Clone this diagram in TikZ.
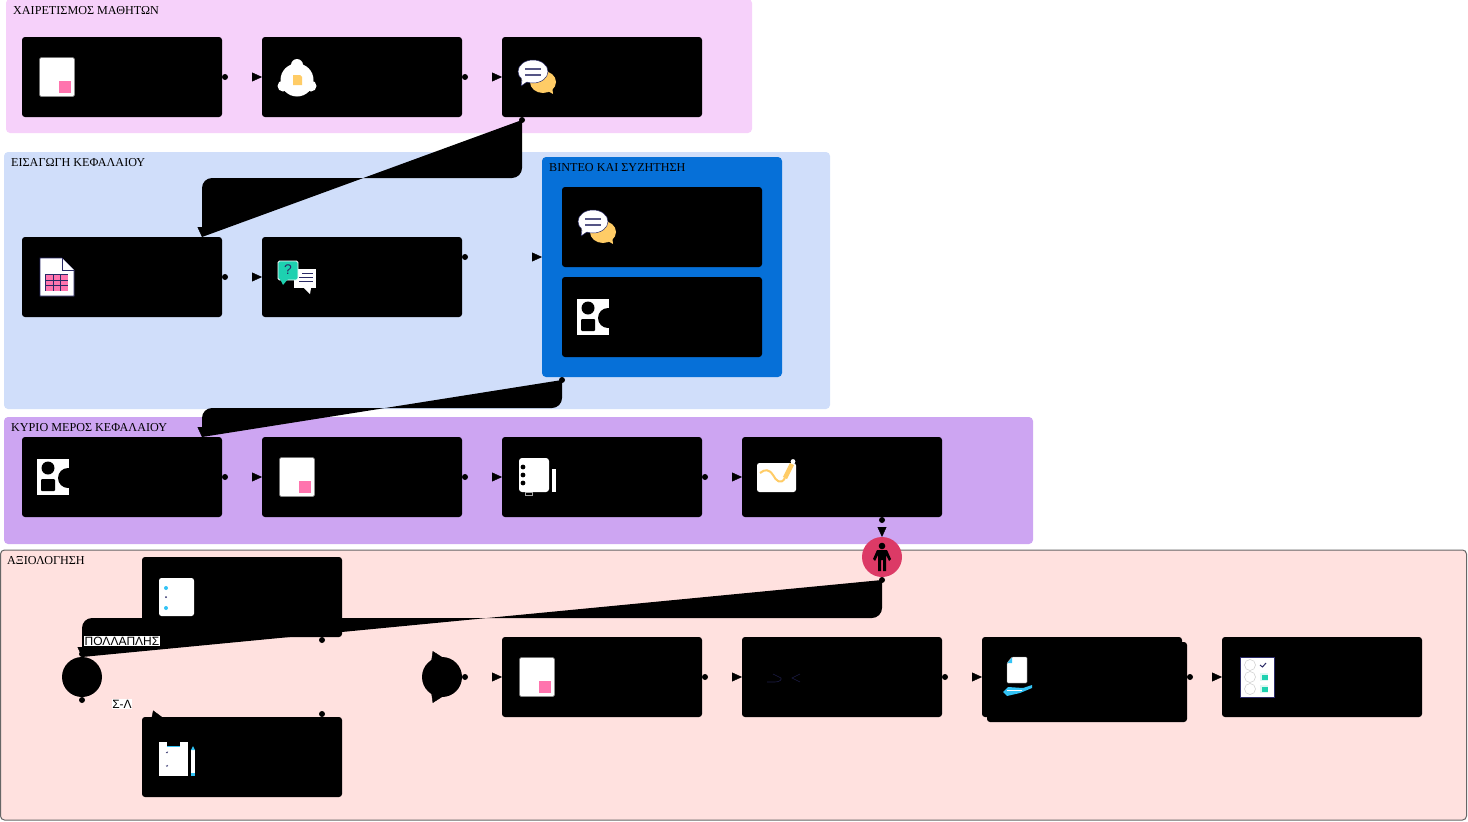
\documentclass[tikz,border=0pt]{standalone}
\usepackage{fontspec}
\setmainfont{Liberation Serif}
\newfontfamily\labelfont{Liberation Sans}
\usepackage{xcolor}
\usetikzlibrary{arrows.meta,calc,decorations.markings}

\definecolor{greetbg}{HTML}{F6D1FA}
\definecolor{introbg}{HTML}{D0DEFA}
\definecolor{videobg}{HTML}{0670D8}
\definecolor{mainbg}{HTML}{CDA5F2}
\definecolor{evalbg}{HTML}{FFE1DF}
\definecolor{evaledge}{HTML}{666666}
\definecolor{gatered}{HTML}{DC3A66}
\definecolor{iconpink}{HTML}{FF74AE}
\definecolor{iconyellow}{HTML}{FFCC66}
\definecolor{iconnavy}{HTML}{2A2A66}
\definecolor{iconteal}{HTML}{1DD1B0}
\definecolor{iconcyan}{HTML}{33C3F5}

\tikzset{
    pics/docicon/.style={code={
        \fill[white, draw=gray, line width=0.5, rounded corners=1.5] (-17.5,-19.5) rectangle (17.5,19.5);
        \fill[iconpink] (2,4) rectangle (14,16);
    }},
    pics/bellicon/.style={code={
        \fill[white] (0,3) circle (16.5) (0,-12) circle (6) (-14,9) circle (5.5) (14,9) circle (5.5);
        \fill[iconyellow] (-4,-2) -- (3,-2) -- (5,0) -- (5,8) -- (-4,8) -- cycle;
    }},
    pics/chaticon/.style={code={
        \fill[iconyellow] (6,5) ellipse (13 and 11);
        \fill[iconyellow] (9,13) -- (16,17) -- (15,8) -- cycle;
        \fill[white, draw=iconnavy, line width=0.5] (-4,-5.5) ellipse (15 and 11.5);
        \fill[white] (-16,9) -- (-15,-1) -- (-9,4) -- cycle;
        \draw[iconnavy, line width=0.5] (-16,9) -- (-15,3) (-16,9) -- (-10,5);
        \draw[iconnavy!80, line width=1.4] (-12,-8) -- (4,-8) (-12,-2) -- (4,-2);
    }},
    pics/tableicon/.style={code={
        \fill[white, draw=iconnavy, line width=0.6] (-17,-19) -- (5,-19) -- (17,-7) -- (17,19) -- (-17,19) -- cycle;
        \fill[white, draw=iconnavy, line width=0.6] (5,-19) -- (5,-7) -- (17,-7);
        \fill[iconnavy] (-12,-3) rectangle (11,14);
        \foreach \cx in {-11,-3.5,4}{
            \foreach \cy in {-2,3.5,9}{
                \fill[iconpink] (\cx,\cy) rectangle ++(6.5,4.5);
            }
        }
    }},
    pics/qaicon/.style={code={
        \fill[white] (-3,-8) rectangle (19,11);
        \fill[white] (7,11) -- (13,17) -- (14,11) -- cycle;
        \draw[iconnavy, line width=0.8] (5,-4) -- (16,-4) (2,0) -- (16,0) (2,4) -- (16,4);
        \fill[iconteal, draw=white, line width=0.8, rounded corners=1.5] (-19,-16) rectangle (1,3);
        \fill[iconteal] (-17,2) -- (-14,8) -- (-9,2) -- cycle;
        \node[iconnavy, font=\labelfont\fontsize{14}{14}\selectfont, inner sep=0] (qmark) at (-9,-7) {?};
    }},
    pics/shapesicon/.style={code={
        \fill[white] (-20,-18) rectangle (12,18);
        \fill[black] (-9,-9) circle (6.5) (11,1) circle (10);
        \fill[black, rounded corners=1] (-16,2) rectangle (-2,14);
    }},
    pics/notesicon/.style={code={
        \fill[white, rounded corners=3] (-18,-19) rectangle (12,15);
        \fill[black] (-14,-10) circle (2.4) (-14,-2) circle (2.4) (-14,6) circle (2.4);
        \fill[white] (15,-8) rectangle (19,15);
        \draw[gray!70, line width=0.7] (-12,15) rectangle (-5,18);
    }},
    pics/signicon/.style={code={
        \fill[white, rounded corners=2.5] (-20,-14) rectangle (19,15);
        \draw[iconyellow, line width=2] (-17,-4) .. controls (-12,-8) and (-8,-8) .. (-4,-2) .. controls (-1,4) and (4,8) .. (8,1);
        \draw[iconyellow, line width=4.5] (8,1) -- (15,-13);
        \fill[white] (16,-15.5) circle (2.4);
    }},
    pics/listicon/.style={code={
        \fill[white, rounded corners=2.5] (-18,-19) rectangle (17,19);
        \fill[iconcyan] (-11,-9) circle (2) (-11,11) circle (2);
        \fill[iconnavy] (-11,0) circle (1);
    }},
    pics/clipicon/.style={code={
        \fill[white] (-18,-15) rectangle (11,19);
        \fill[iconcyan] (-10,-11) rectangle (3,-10);
        \fill[black] (-10,-15) rectangle (3,-11);
        \draw[iconnavy, line width=0.5] (-11,-5) -- (-10,-4) -- (-9,-5.5) (-11,8.5) -- (-10,9.5) -- (-9,8);
        \fill[white] (14,-7) rectangle (18,16);
        \fill[iconcyan] (14,16) rectangle (18,19);
        \fill[iconcyan] (14,-7) -- (16,-11) -- (18,-7) -- cycle;
    }},
    pics/gapsicon/.style={code={
        \draw[iconnavy!70!black, line width=0.6] (-10,5) -- (-2,5) .. controls (2,5) and (5,3) .. (4,1) -- (-4,-3);
        \draw[iconnavy!70!black, line width=0.6] (23,-3) -- (15,1) -- (23,5);
    }},
    pics/handicon/.style={code={
        \fill[white, draw=gray, line width=0.4, rounded corners=1] (-10,-14) -- (-5,-20) -- (10,-20) -- (10,6) -- (-10,6) -- cycle;
        \fill[iconcyan] (-9.5,-14) -- (-5,-19.5) -- (-5,-14) -- cycle;
        \fill[iconcyan] (-14,15) -- (-9,10) -- (6,11) -- (15,8) -- (15,11) -- (3,16) -- (-10,19) -- cycle;
        \draw[white, line width=0.6] (-10,13) -- (5,13);
    }},
    pics/surveyicon/.style={code={
        \fill[white, draw=iconnavy, line width=0.8] (-17,-20) rectangle (17,20);
        \foreach \fy in {-12,0,12}{
            \draw[gray!40, line width=0.5] (-7,\fy) circle (5.5);
        }
        \draw[iconnavy, line width=1] (3,-12) -- (5.5,-10) -- (9,-14);
        \foreach \fy in {0,12}{
            \fill[iconteal!15] (3,\fy-4) rectangle (11,\fy+4);
            \fill[iconteal] (5,\fy-2.5) rectangle (11,\fy+2.5);
        }
    }},
    pics/personicon/.style={code={
        \fill[black] (0,-11) circle (3.3);
        \fill[black] (-5,-7) -- (5,-7) -- (9,2) -- (7,4) -- (4,-2) -- (4,14) -- (1,14) -- (1,3) -- (-1,3) -- (-1,14) -- (-4,14) -- (-4,-2) -- (-7,4) -- (-9,2) -- cycle;
    }}
}

\begin{document}
\begin{tikzpicture}[
    x=1pt, y=-1pt,
    groupbox/.style={rectangle, rounded corners=4, inner sep=0, outer sep=0},
    grouptitle/.style={anchor=west, inner sep=0, font=\fontsize{12.15}{12.15}\selectfont},
    block/.style={rectangle, fill=black, rounded corners=3, minimum width=200, minimum height=80, inner sep=0, outer sep=0},
    gateway/.style={circle, minimum size=40, inner sep=0, outer sep=0},
    flowmarks/.style={draw=none, postaction={decorate}, decoration={markings,
        mark=at position #1 with {\fill[black] (0,0) circle (3pt);},
        mark=at position 1 with {\arrow{Triangle[length=10pt,width=9pt]}}}},
    flow/.style={flowmarks=3pt},
    bigflow/.style={flowmarks=0pt, fill=black, rounded corners=10},
    choice/.style={fill=white, inner sep=0.5, font=\labelfont\fontsize{12}{12}\selectfont}
]
    \useasboundingbox (0,0) rectangle (1468,822);

    % Groups
    \node[groupbox, fill=greetbg, minimum width=746, minimum height=134] (greet) at (379,66) {};
    \node[groupbox, fill=introbg, minimum width=826, minimum height=257] (intro) at (417,280.5) {};
    \node[groupbox, fill=videobg, minimum width=240, minimum height=220] (video) at (662,267) {};
    \node[groupbox, fill=mainbg, minimum width=1029, minimum height=127] (mainpart) at (518.5,480.5) {};
    \node[groupbox, fill=evalbg, draw=evaledge, line width=1, minimum width=1466, minimum height=270] (evalpart) at (733.5,685) {};

    \node[grouptitle] (greettitle) at (13,10.5) {ΧΑΙΡΕΤΙΣΜΟΣ ΜΑΘΗΤΩΝ};
    \node[grouptitle] (introtitle) at (11,163) {ΕΙΣΑΓΩΓΗ ΚΕΦΑΛΑΙΟΥ};
    \node[grouptitle] (videotitle) at (549,168) {ΒΙΝΤΕΟ ΚΑΙ ΣΥΖΗΤΗΣΗ};
    \node[grouptitle] (maintitle) at (11,428) {ΚΥΡΙΟ ΜΕΡΟΣ ΚΕΦΑΛΑΙΟΥ};
    \node[grouptitle] (evaltitle) at (7,561) {ΑΞΙΟΛΟΓΗΣΗ};

    % Blocks
    \foreach \n/\x/\y in {a1/122/77, a2/362/77, a3/602/77,
                          b1/122/277, b2/362/277, v1/662/227, v2/662/317,
                          c1/122/477, c2/362/477, c3/602/477, c4/842/477,
                          q1/242/597, q2/242/757,
                          e1/602/677, e2/842/677, e4/1322/677} {
        \node[block] (\n) at (\x,\y) {};
    }
    \node[block] (e3back) at (1087,682) {};
    \node[block] (e3) at (1082,677) {};

    % Gateways
    \node[gateway, fill=gatered] (person) at (882,557) {};
    \node[gateway, fill=black] (open) at (82,677) {};
    \node[gateway, fill=black] (close) at (442,677) {};

    % Icons
    \pic at ([xshift=35]a1.west) {docicon};
    \pic at ([xshift=35]a2.west) {bellicon};
    \pic at ([xshift=35]a3.west) {chaticon};
    \pic at ([xshift=35]b1.west) {tableicon};
    \pic at ([xshift=35]b2.west) {qaicon};
    \pic at ([xshift=35]v1.west) {chaticon};
    \pic at ([xshift=35]v2.west) {shapesicon};
    \pic at ([xshift=35]c1.west) {shapesicon};
    \pic at ([xshift=35]c2.west) {docicon};
    \pic at ([xshift=35]c3.west) {notesicon};
    \pic at ([xshift=35]c4.west) {signicon};
    \pic at ([xshift=35]q1.west) {listicon};
    \pic at ([xshift=35]q2.west) {clipicon};
    \pic at ([xshift=35]e1.west) {docicon};
    \pic at ([xshift=35]e2.west) {gapsicon};
    \pic at ([xshift=35]e3.west) {handicon};
    \pic at ([xshift=35]e4.west) {surveyicon};
    \pic at (person) {personicon};

    % Flows inside the groups
    \foreach \s/\t in {a1/a2, a2/a3, b1/b2, c1/c2, c2/c3, c3/c4, e1/e2, e2/e3} {
        \draw[flow] (\s.east) -- (\t.west);
    }
    \draw[flow] ([yshift=20]b2.east) -- ([yshift=10]video.west);
    \draw[flow] (close.east) -- (e1.west);
    \draw[flow] (e3back.east |- e3.east) -- (e4.west);
    \draw[flow] ([xshift=40]c4.south) -- (person.north);

    % Flows between the groups
    \draw[bigflow] ([xshift=20,yshift=-3]a3.south west) -- ++(0,58) -| ([xshift=-20]b1.north east);
    \draw[bigflow] ([xshift=20,yshift=-3]video.south west) -- ++(0,28) -| ([xshift=-20]c1.north east);
    \draw[bigflow] ([yshift=-3]person.south) -- ++(0,38) -| (open.north);

    % Choices
    \draw[flow] (open.north) -- ++(0,-3) -- node[choice, yshift=4.5] (many) {ΠΟΛΛΑΠΛΗΣ} ([xshift=20]q1.south west);
    \draw[flow] (open.south) -- ++(0,3) -- node[choice, yshift=4.5] (truefalse) {Σ-Λ} ([xshift=20]q2.north west);
    \draw[flow] ([xshift=-20]q1.south east) -- ++(0,3) -- (close.north);
    \draw[flow] ([xshift=-20]q2.north east) -- ++(0,-3) -- (close.south);
\end{tikzpicture}
\end{document}
